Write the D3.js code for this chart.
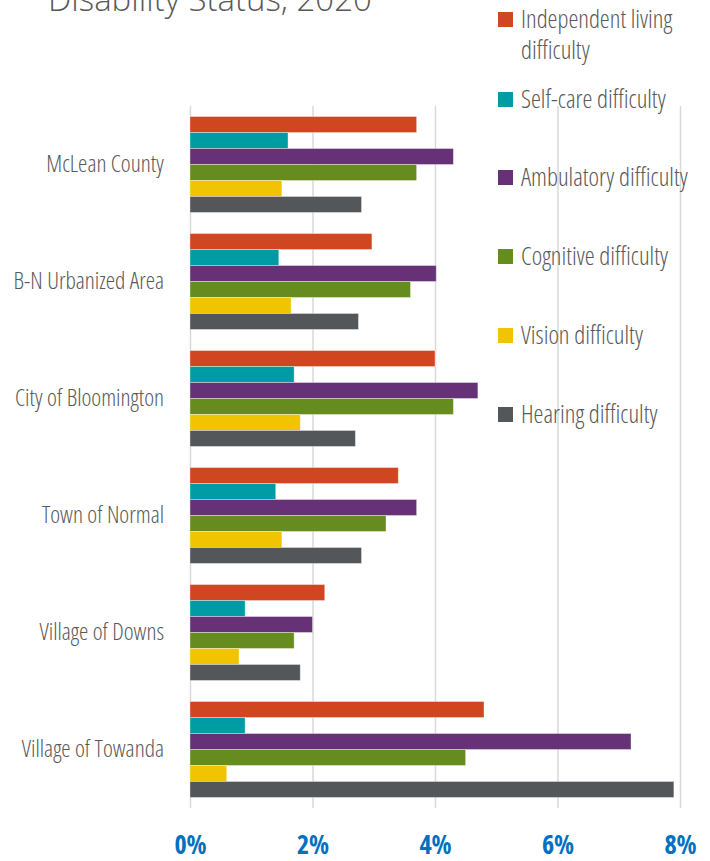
<!DOCTYPE html>
<html>
<head>
<meta charset="utf-8">
<script src="https://cdn.jsdelivr.net/npm/d3@7/dist/d3.min.js"></script>
<style>
  html, body { margin: 0; padding: 0; background: #fff; }
  svg { display: block; }
  .cond { font-family: "Open Sans", sans-serif; font-weight: 300; font-stretch: condensed; }
  .tickcond { font-family: "Open Sans", sans-serif; font-weight: 700; font-stretch: semi-condensed; }
</style>
</head>
<body>
<svg id="chart" width="710" height="861"></svg>
<script>
// Places shown on the chart, top to bottom
const places = ["McLean County", "B-N Urbanized Area", "City of Bloomington",
                "Town of Normal", "Village of Downs", "Village of Towanda"];

// Difficulty types, in the order the bars stack inside each group
const types = ["Independent living difficulty", "Self-care difficulty", "Ambulatory difficulty",
               "Cognitive difficulty", "Vision difficulty", "Hearing difficulty"];
const typeColors = ["#D04620", "#009CA6", "#663177", "#668C20", "#F0C400", "#54575A"];

// Share of population (%) per place, one array per difficulty type
const independentLiving = [3.7, 2.97, 4.0, 3.4, 2.2, 4.8];
const selfCare          = [1.6, 1.45, 1.7, 1.4, 0.9, 0.9];
const ambulatory        = [4.3, 4.02, 4.7, 3.7, 2.0, 7.2];
const cognitive         = [3.7, 3.6, 4.3, 3.2, 1.7, 4.5];
const vision            = [1.5, 1.65, 1.8, 1.5, 0.8, 0.6];
const hearing           = [2.8, 2.75, 2.7, 2.8, 1.8, 7.9];

const xTicks = [0, 2, 4, 6, 8];
const title = "Disability Status, 2020";

const seriesValues = [independentLiving, selfCare, ambulatory, cognitive, vision, hearing];

const svg = d3.select("#chart");
const plot = { left: 190, right: 680, top: 106, bottom: 808 };

const x = d3.scaleLinear().domain([0, 8]).range([plot.left, plot.right]);
const y0 = d3.scaleBand().domain(places).range([plot.top, plot.bottom]).paddingInner(0.18).paddingOuter(0.09);
const y1 = d3.scaleBand().domain(types).range([0, y0.bandwidth()]);

// Title (partly above the visible area)
svg.append("text")
  .attr("x", 48).attr("y", 11)
  .attr("font-family", "Open Sans, sans-serif")
  .attr("font-weight", 300)
  .attr("font-size", 33)
  .attr("fill", "#595959")
  .text(title);

// Vertical gridlines and percent labels
const xAxis = d3.axisBottom(x).tickValues(xTicks).tickSize(-(plot.bottom - plot.top)).tickFormat(d => d + "%");
const gx = svg.append("g").attr("transform", `translate(0,${plot.bottom})`).call(xAxis);
gx.select(".domain").remove();
gx.selectAll(".tick line").attr("stroke", "#d9d9d9").attr("stroke-width", 1.5);
gx.selectAll(".tick text")
  .attr("class", "tickcond")
  .attr("y", 46)
  .attr("dy", null)
  .attr("fill", "#0070C0")
  .attr("font-size", 26);

// Bars
const groups = svg.append("g").selectAll("g")
  .data(places)
  .join("g")
  .attr("transform", d => `translate(0,${y0(d)})`);

groups.selectAll("rect")
  .data((p, i) => types.map((t, j) => ({ type: t, value: seriesValues[j][i], color: typeColors[j] })))
  .join("rect")
  .attr("x", x(0))
  .attr("y", d => y1(d.type))
  .attr("width", d => x(d.value) - x(0))
  .attr("height", y1.bandwidth())
  .attr("fill", d => d.color)
  .attr("stroke", "rgba(255,255,255,0.45)")
  .attr("stroke-width", 0.8);

// Category labels
const yAxis = d3.axisLeft(y0).tickSize(0).tickPadding(26);
const gy = svg.append("g").attr("transform", `translate(${plot.left},0)`).call(yAxis);
gy.select(".domain").remove();
gy.selectAll(".tick text")
  .attr("class", "cond")
  .attr("fill", "#595959")
  .attr("font-size", 23.5);

// Legend
const legendY = [12, 92, 170, 249, 328, 407];
const legend = svg.append("g");
types.forEach((t, j) => {
  const row = legend.append("g").attr("transform", `translate(498,${legendY[j]})`);
  row.append("rect").attr("width", 15).attr("height", 15).attr("fill", typeColors[j]);
  const txt = row.append("text")
    .attr("class", "cond")
    .attr("x", 23).attr("y", 16)
    .attr("fill", "#595959")
    .attr("font-size", 25);
  if (j === 0) {
    txt.append("tspan").attr("x", 23).text("Independent living");
    txt.append("tspan").attr("x", 23).attr("dy", 31).text("difficulty");
  } else {
    txt.text(t);
  }
});
</script>
</body>
</html>
